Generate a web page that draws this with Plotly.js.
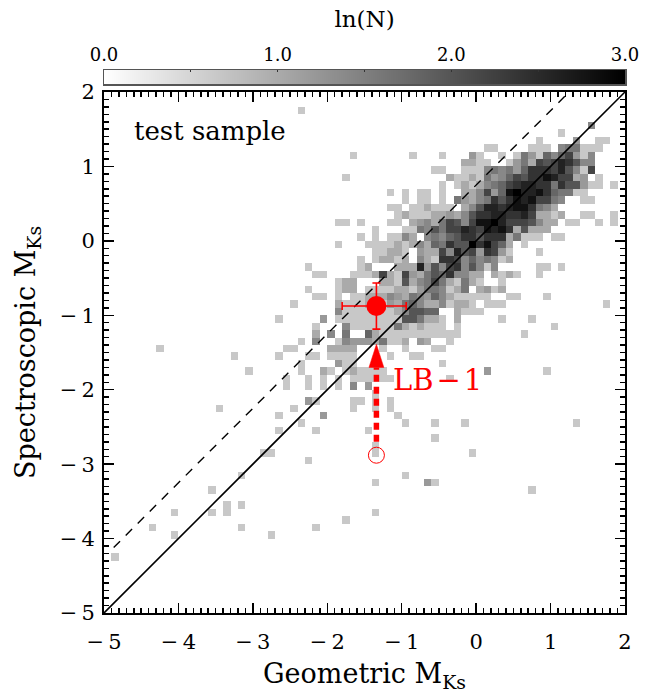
<!DOCTYPE html>
<html>
<head>
<meta charset="utf-8">
<script src="https://cdn.plot.ly/plotly-3.0.0.min.js"></script>
<style>html,body{margin:0;padding:0;background:#fff}</style>
</head>
<body>
<div id="chart" style="width:668px;height:693px"></div>
<script>
// ln(N) for each shade ('1'..'c').
const shadeCodes = "123456789abc";
const shadeValues = [0.65, 1.0, 1.2, 1.4, 1.6, 1.8, 2.0, 2.2, 2.4, 2.6, 2.8, 3.0];
// Each entry: row from the top (0.1 mag bins), then pairs of start column, run of shades.
const heatCells = [
[2,26,"1"],[4,65,"4"],[5,61,"1"],[6,58,"1",63,"3",66,"11"],
[7,51,"11",57,"111",61,"455111"],
[8,33,"1",41,"1",45,"1",49,"31",53,"1",55,"15316468314"],
[9,48,"2211",54,"1",55,"352878a9744"],
[10,44,"11",48,"1114545369998a7418"],
[11,32,"1",46,"2112153468799ba8823",66,"1"],
[12,45,"1",47,"121245689aa995977311",68,"1"],
[13,38,"1",40,"1",42,"11",45,"1",48,"224836bcaab965511"],
[14,40,"1",42,"11",45,"1",47,"53245979bab8854",64,"11"],
[15,38,"11",41,"11",43,"2111",48,"247aa9abb9542"],
[16,39,"1211122324799aa99a82212",64,"11",68,"1"],
[17,31,"11",34,"1",38,"11",41,"234258748bbca8887422",62,"11",66,"1",68,"1"],
[18,36,"1",40,"11",42,"547588a98bab927222"],
[19,34,"1",36,"1",38,"11",40,"42",43,"4546799799925111",60,"11"],
[20,31,"1",35,"11112124265977c9b862",56,"1"],
[21,36,"1122",40,"1",42,"32284a7839831",58,"1"],
[22,34,"1",36,"1",37,"22",39,"12",42,"4219984645412"],
[23,27,"1",34,"12",39,"222a3748947414",58,"11",61,"1"],
[24,28,"11",33,"111282183257694422",52,"2121",58,"1"],
[25,31,"122",37,"22172458521521",53,"1"],
[26,27,"1",31,"122",35,"11112213554125",50,"2312"],
[27,28,"11",31,"1",33,"1122243254364211111",54,"11",59,"1"],
[28,25,"1",31,"2111221325642241221",51,"111",67,"1"],
[29,31,"41111111247766",47,"2111"],
[30,23,"1",29,"3",31,"111111111775221",47,"2",53,"1",57,"1"],
[31,28,"1",32,"41111115212111",47,"1",60,"1"],
[32,28,"2",30,"4",32,"5",35,"6211111111111",56,"1"],
[33,26,"1",28,"4",31,"1433325112",42,"32",46,"1"],
[34,7,"1",24,"11",30,"2222",37,"1",40,"1",44,"11"],
[35,17,"1",23,"1",27,"11",30,"1111",38,"1",41,"11"],
[36,26,"1",31,"311",45,"1"],
[37,19,"1",26,"1",29,"21",32,"121111",51,"3",59,"1"],
[38,24,"1",27,"1",29,"1",31,"1",33,"111111",46,"1"],
[39,24,"1",27,"1",29,"1",31,"1",33,"4",35,"3"],
[40,36,"1"],[41,27,"31",33,"11",36,"1",38,"1"],[42,15,"1",25,"1",33,"1",36,"1",38,"1"],
[43,23,"1",29,"3",39,"1"],[44,26,"1",40,"1",44,"1",48,"1",63,"1"],[45,23,"1",28,"1",35,"1"],
[46,44,"1"],[47,36,"1"],[48,21,"11",36,"1",49,"1"],[49,27,"1"],[51,18,"1",40,"1"],
[52,36,"1",43,"31"],[53,14,"1",57,"1"],[55,16,"1",18,"1"],[56,9,"1",14,"1",16,"1",36,"1"],
[57,32,"1"],[58,6,"1",18,"1",28,"1"],[59,9,"1",22,"1"],[62,1,"1"]
];
const tickVals = [-5,-4,-3,-2,-1,0,1,2];
const tickLabels = ["\u2212\u20095","\u2212\u20094","\u2212\u20093","\u2212\u20092","\u2212\u20091","0","1","2"];
const rampTickVals = [0, 1, 2, 3];
const rampMinorVals = [0.5, 1.5, 2.5];
const oneToOneX = [-5, 2];
const oneToOneY = [-5, 2];
const dashedX = [-4.87, 1.2];
const dashedY = [-4.12, 1.95];
const lb1X = [-1.34];
const lb1Y = [-0.876];
const lb1ErrXMinus = [0.46];
const lb1ErrXPlus = [0.40];
const lb1ErrY = [0.31];
const oldX = [-1.34];
const oldY = [-2.88];
const arrowShaftX = [-1.34, -1.34];
const arrowShaftY = [-2.70, -1.70];
const arrowHeadX = [-1.44, -1.34, -1.24, -1.44];
const arrowHeadY = [-1.70, -1.39, -1.70, -1.70];

const N = 70;
const z = [];
for (let i = 0; i < N; i++) z.push(new Array(N).fill(null));
heatCells.forEach(function (e) {
  const row = e[0];
  for (let k = 1; k < e.length; k += 2) {
    const start = e[k], run = e[k + 1];
    for (let j = 0; j < run.length; j++) {
      z[N - 1 - row][start + j] = shadeValues[shadeCodes.indexOf(run[j])];
    }
  }
});
// Minor tick marks every 0.1 between the labelled integers.
const minorTicks = [];
for (let i = -50; i <= 20; i++) if (i % 10 !== 0) minorTicks.push(i / 10);

const FONT = "'DejaVu Serif', serif";
const grey = [[0, "#ffffff"], [1, "#000000"]];
const red = "#ff0000";

const traces = [
  {type: "heatmap", z: z, x0: -4.95, dx: 0.1, y0: -4.95, dy: 0.1, zmin: 0, zmax: 3,
   colorscale: grey, showscale: false, hoverinfo: "skip", xaxis: "x", yaxis: "y"},
  {type: "heatmap", z: [rampTickVals, rampTickVals], x: rampTickVals, y: [0, 1], zmin: 0, zmax: 3,
   zsmooth: "best", colorscale: grey, showscale: false, hoverinfo: "skip", xaxis: "x2", yaxis: "y2"},
  {type: "scatter", mode: "lines", x: oneToOneX, y: oneToOneY, line: {color: "#000", width: 1.6}, xaxis: "x", yaxis: "y"},
  {type: "scatter", mode: "lines", x: dashedX, y: dashedY, line: {color: "#000", width: 1.4, dash: "9px,8px"}, xaxis: "x", yaxis: "y"},
  {type: "scatter", mode: "lines", x: arrowShaftX, y: arrowShaftY, line: {color: red, width: 5.5, dash: "7px,5px"}, xaxis: "x", yaxis: "y"},
  {type: "scatter", mode: "lines", x: arrowHeadX, y: arrowHeadY, fill: "toself", fillcolor: red, line: {color: red, width: 0.5}, xaxis: "x", yaxis: "y"},
  {type: "scatter", mode: "markers", x: oldX, y: oldY, marker: {symbol: "circle-open", size: 16, color: red, line: {color: red, width: 1}}, xaxis: "x", yaxis: "y"},
  {type: "scatter", mode: "markers", x: lb1X, y: lb1Y, marker: {size: 20, color: red},
   error_x: {type: "data", symmetric: false, array: lb1ErrXPlus, arrayminus: lb1ErrXMinus, color: red, thickness: 1.6, width: 4},
   error_y: {type: "data", array: lb1ErrY, color: red, thickness: 1.6, width: 4}, xaxis: "x", yaxis: "y"}
];

const mainAxis = {
  range: [-5, 2], showgrid: false, zeroline: false, showline: true, linecolor: "#000", linewidth: 2,
  mirror: "ticks", ticks: "inside", ticklen: 10, tickwidth: 1.5, tickcolor: "#000",
  minor: {tickmode: "array", tickvals: minorTicks, ticks: "inside", ticklen: 5, tickwidth: 1.5, tickcolor: "#000", showgrid: false},
  tickmode: "array", tickfont: {family: FONT, size: 21, color: "#000"}
};

const layout = {
  width: 668, height: 693, paper_bgcolor: "#fff", plot_bgcolor: "#fff", showlegend: false,
  margin: {l: 104, r: 43, t: 70, b: 80, pad: 0},
  font: {family: FONT, color: "#000"},
  xaxis: Object.assign({}, mainAxis, {domain: [0, 1], anchor: "y", tickvals: tickVals, ticktext: tickLabels,
    ticklabelstandoff: 9,
    title: {text: "Geometric M<sub>Ks</sub>", font: {family: FONT, size: 27}, standoff: 12}}),
  yaxis: Object.assign({}, mainAxis, {domain: [0, 0.9595], anchor: "x", tickvals: tickVals, ticktext: tickLabels,
    ticklabelstandoff: 3,
    title: {text: "Spectroscopic M<sub>Ks</sub>", font: {family: FONT, size: 27}, standoff: 16}}),
  xaxis2: {domain: [0, 1], anchor: "y2", side: "top", range: [0, 3], tickmode: "array", tickvals: rampTickVals, tickformat: ".1f",
    showgrid: false, zeroline: false, showline: true, linecolor: "#555", linewidth: 1.5, mirror: true,
    ticks: "inside", ticklen: 2, tickwidth: 1, tickcolor: "#333",
    minor: {tickmode: "array", tickvals: rampMinorVals, ticks: "inside", ticklen: 2, tickwidth: 1, tickcolor: "#333", showgrid: false},
    tickfont: {family: FONT, size: 18, color: "#000"},
    title: {text: "ln(N)", font: {family: FONT, size: 23}, standoff: 10}},
  yaxis2: {domain: [0.9742, 1], anchor: "x2", range: [0, 1], showgrid: false, zeroline: false,
    showticklabels: false, ticks: "", showline: true, linecolor: "#555", linewidth: 1.5, mirror: true},
  annotations: [
    {xref: "x", yref: "y", x: -4.63, y: 1.48, xanchor: "left", yanchor: "middle", showarrow: false,
     text: "test sample", font: {family: FONT, size: 26, color: "#000"}},
    {xref: "x", yref: "y", x: -1.15, y: -1.87, xanchor: "left", yanchor: "middle", showarrow: false,
     text: "LB\u200a\u2212\u200a1", font: {family: FONT, size: 29, color: red}}
  ]
};

Plotly.newPlot("chart", traces, layout, {staticPlot: true, displayModeBar: false});
</script>
</body>
</html>
